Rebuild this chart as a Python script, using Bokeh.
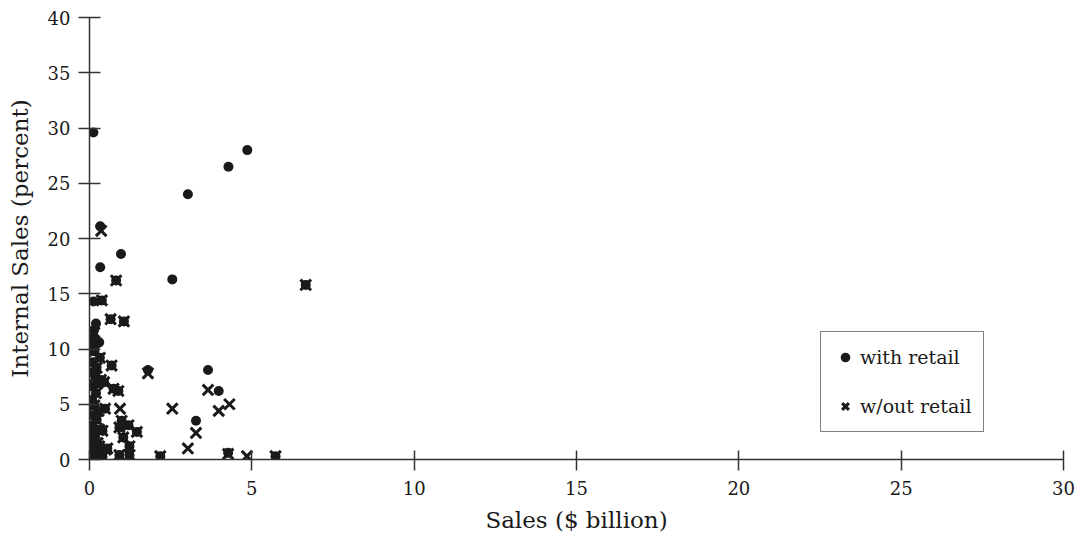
from bokeh.plotting import figure
from bokeh.models import Legend, LegendItem, Range1d, FixedTicker
from bokeh.embed import file_html
from bokeh.resources import INLINE

# ---- data: sales ($ billion) vs internal sales (percent) ----
with_retail_sales = [0.12, 4.86, 4.28, 3.03, 0.33, 0.97, 0.33, 2.55, 0.12, 0.20, 0.30, 1.80, 3.65, 3.98, 3.28, 4.27, 0.14, 0.12,
                     0.82, 0.38, 0.65, 1.06, 6.66, 0.32, 0.68, 0.35, 0.74, 0.89, 0.48, 0.99, 1.20, 0.92, 1.46, 1.04, 1.23,
                     0.55, 0.92, 1.23, 0.32, 2.18, 5.73,
                     0.08, 0.15, 0.10, 0.22, 0.08, 0.18, 0.25, 0.10, 0.20, 0.08, 0.15, 0.28, 0.10, 0.22, 0.08, 0.30, 0.15,
                     0.10, 0.25, 0.08, 0.18, 0.12, 0.40, 0.30, 0.40, 0.45, 0.50]
with_retail_internal = [29.6, 28.0, 26.5, 24.0, 21.1, 18.6, 17.4, 16.3, 14.3, 12.3, 10.6, 8.1, 8.1, 6.2, 3.5, 0.6, 11.7, 11.0,
                        16.2, 14.4, 12.7, 12.5, 15.8, 9.2, 8.5, 7.2, 6.4, 6.2, 4.6, 3.5, 3.1, 2.9, 2.5, 2.0, 1.2,
                        1.0, 0.4, 0.4, 0.4, 0.3, 0.3,
                        10.3, 9.8, 8.8, 8.3, 7.9, 7.5, 6.9, 6.6, 6.0, 5.4, 4.9, 4.4, 4.0, 3.6, 3.1, 2.7, 2.4,
                        1.8, 1.5, 1.1, 0.8, 0.3, 0.3, 1.2, 2.6, 7.0, 0.9]

without_retail_sales = [0.36, 1.80, 3.65, 3.98, 4.31, 2.55, 0.94, 3.28, 3.03, 4.85, 4.27, 0.15,
                        0.82, 0.38, 0.65, 1.06, 6.66, 0.32, 0.68, 0.35, 0.74, 0.89, 0.48, 0.99, 1.20, 0.92, 1.46, 1.04,
                        1.23, 0.55, 0.92, 1.23, 0.32, 2.18, 5.73,
                        0.08, 0.15, 0.10, 0.22, 0.08, 0.18, 0.25, 0.10, 0.20, 0.08, 0.15, 0.28, 0.10, 0.22, 0.08, 0.30,
                        0.15, 0.10, 0.25, 0.08, 0.18, 0.12, 0.40, 0.30, 0.40, 0.45, 0.50]
without_retail_internal = [20.7, 7.8, 6.3, 4.4, 5.0, 4.6, 4.6, 2.4, 1.0, 0.3, 0.5, 11.5,
                           16.2, 14.4, 12.7, 12.5, 15.8, 9.2, 8.5, 7.2, 6.4, 6.2, 4.6, 3.5, 3.1, 2.9, 2.5, 2.0,
                           1.2, 1.0, 0.4, 0.4, 0.4, 0.3, 0.3,
                           10.3, 9.8, 8.8, 8.3, 7.9, 7.5, 6.9, 6.6, 6.0, 5.4, 4.9, 4.4, 4.0, 3.6, 3.1, 2.7,
                           2.4, 1.8, 1.5, 1.1, 0.8, 0.3, 0.3, 1.2, 2.6, 7.0, 0.9]

x_ticks = [0, 5, 10, 15, 20, 25, 30]
y_ticks = [0, 5, 10, 15, 20, 25, 30, 35, 40]

FONT = "DejaVu Serif"
INK = "#1a1a1a"

p = figure(width=1081, height=535,
           x_range=Range1d(0, 30), y_range=Range1d(0, 40),
           output_backend="svg", toolbar_location=None,
           min_border_left=89, min_border_right=18, min_border_top=17, min_border_bottom=73)
p.grid.visible = False
p.outline_line_color = None

r1 = p.scatter(with_retail_sales, with_retail_internal, marker="circle", size=10,
               fill_color=INK, line_color=None)
r2 = p.scatter(without_retail_sales, without_retail_internal, marker="x", size=15,
               line_color=INK, line_width=3)

for ax, ticks in ((p.xaxis[0], x_ticks), (p.yaxis[0], y_ticks)):
    ax.ticker = FixedTicker(ticks=ticks)
    ax.minor_tick_line_color = None
    ax.axis_line_color = "#333333"
    ax.axis_line_width = 1.5
    ax.major_tick_line_color = "#333333"
    ax.major_tick_line_width = 1.5
    ax.major_label_text_font = FONT
    ax.major_label_text_font_size = "18px"
    ax.major_label_text_color = INK
    ax.axis_label_text_font = FONT
    ax.axis_label_text_font_size = "23px"
    ax.axis_label_text_font_style = "normal"
    ax.axis_label_text_color = INK

p.xaxis.major_tick_in = 9
p.xaxis.major_tick_out = 11
p.xaxis.major_label_standoff = 10
p.xaxis.axis_label = "Sales ($ billion)"
p.xaxis.axis_label_standoff = 9

p.yaxis.major_tick_in = 11
p.yaxis.major_tick_out = 11
p.yaxis.major_label_standoff = 8
p.yaxis.axis_label = "Internal Sales (percent)"
p.yaxis.axis_label_standoff = 12

legend = Legend(items=[LegendItem(label="with retail", renderers=[r1]),
                       LegendItem(label="w/out retail", renderers=[r2])],
                location=(731, 27), border_line_color="black", border_line_width=1,
                padding=12, spacing=23, glyph_width=24, glyph_height=24, label_standoff=3,
                label_height=26, label_text_font=FONT, label_text_font_size="19px",
                label_text_color=INK, background_fill_alpha=1, margin=0)
p.add_layout(legend)

open("out.html", "w").write(file_html(p, INLINE))
